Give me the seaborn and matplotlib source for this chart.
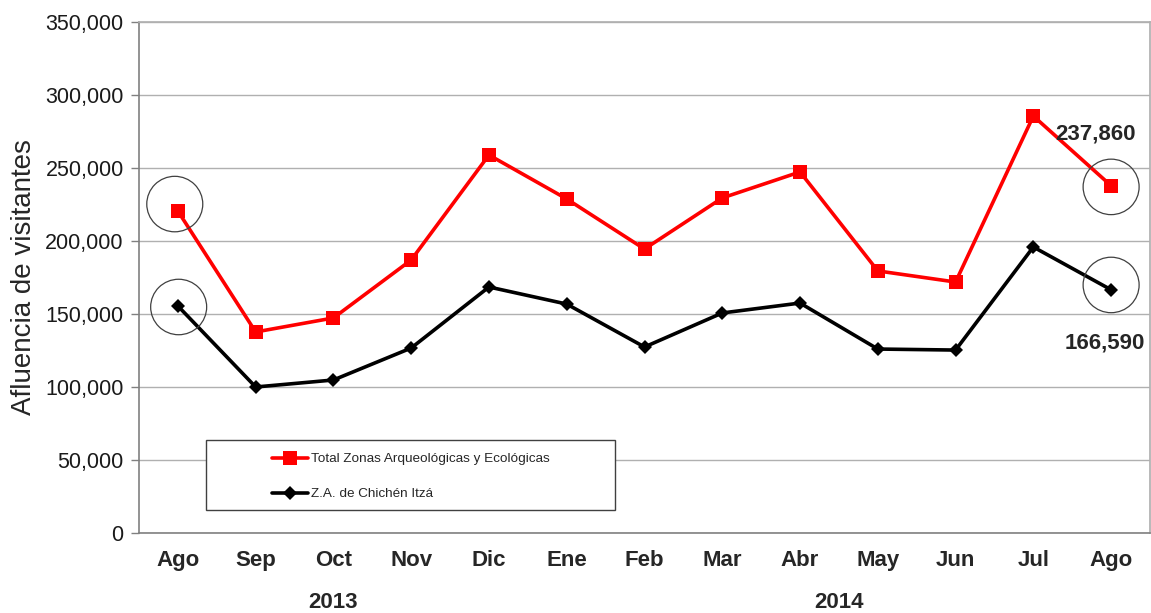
import matplotlib
matplotlib.use("Agg")
import matplotlib.pyplot as plt
import seaborn as sns
import pandas as pd
from matplotlib.patches import Ellipse, Rectangle
from matplotlib.ticker import FuncFormatter

months = ["Ago", "Sep", "Oct", "Nov", "Dic", "Ene", "Feb", "Mar", "Abr", "May", "Jun", "Jul", "Ago"]
total_zonas = [220500, 137700, 147300, 187000, 258900, 228800, 194500, 229500, 247300, 179500, 171900, 285600, 237860]
chichen = [155500, 100000, 104800, 126700, 168500, 156800, 127400, 150700, 157500, 126000, 125300, 195900, 166590]
series_names = ["Total Zonas Arqueológicas y Ecológicas", "Z.A. de Chichén Itzá"]
years = ["2013", "2014"]

sns.set_theme(style="white")
plt.rcParams['font.family'] = ['Liberation Sans', 'DejaVu Sans']

idx = list(range(len(months)))
df = pd.DataFrame({
    "x": idx * 2,
    "y": total_zonas + chichen,
    "serie": [series_names[0]] * len(months) + [series_names[1]] * len(months),
})

fig = plt.figure(figsize=(11.51, 6.13), dpi=100)
ax = fig.add_axes([139/1151, 1 - 533/613, 1011/1151, 511/613])

sns.lineplot(data=df[df.serie == series_names[0]], x="x", y="y", ax=ax, color="#ff0000",
             linewidth=2.6, marker="s", markersize=9.5, markeredgewidth=0,
             label=series_names[0], zorder=3)
sns.lineplot(data=df[df.serie == series_names[1]], x="x", y="y", ax=ax, color="#000000",
             linewidth=2.6, marker="D", markersize=7, markeredgewidth=0,
             label=series_names[1], zorder=3)

ax.set_xlim(-0.5, len(months) - 0.5)
ax.set_ylim(0, 350000)
ax.set_yticks(range(0, 350001, 50000))
ax.yaxis.set_major_formatter(FuncFormatter(lambda v, p: f"{int(v):,}"))
ax.set_xticks(idx)
ax.set_xticklabels(months, fontsize=16, fontweight="bold")
ax.tick_params(axis="y", labelsize=15.5, length=6, width=1, color="#808080", direction="out", left=True, pad=5)
ax.tick_params(axis="x", length=0, pad=12)
for t in ax.get_yticklabels():
    t.set_color("#1a1a1a")
ax.set_xlabel("")
ax.set_ylabel("Afluencia de visitantes", fontsize=20, labelpad=6)
ax.grid(axis="y", color="#b0b0b0", linewidth=1)
ax.set_axisbelow(True)
for s in ["left", "bottom"]:
    ax.spines[s].set_color("#808080")
    ax.spines[s].set_linewidth(1.2)
ax.spines["right"].set_color("#b0b0b0")
ax.spines["top"].set_color("#b0b0b0")

# highlight circles
rx = 0.72
ry = 38000
for xi, yi in [(0 - 0.04, total_zonas[0] + 4800), (0 + 0.01, chichen[0] - 700),
               (12, total_zonas[12] - 800), (12, chichen[12] + 3300)]:
    ax.add_patch(Ellipse((xi, yi), rx, ry, fill=False, edgecolor="#404040", linewidth=0.9, zorder=4))

ax.text(11.8, total_zonas[12] + 35400, f"{total_zonas[12]:,}", ha="center", va="center",
        fontsize=16, fontweight="bold")
ax.text(11.92, chichen[12] - 36450, f"{chichen[12]:,}", ha="center", va="center",
        fontsize=16, fontweight="bold")

# year labels
fig.text(333/1151, 1 - 603/613, years[0], ha="center", va="center", fontsize=16, fontweight="bold")
fig.text(839/1151, 1 - 603/613, years[1], ha="center", va="center", fontsize=16, fontweight="bold")

# legend box
ax.add_patch(Rectangle((67/1011, 23/511), 409/1011, 70/511, transform=ax.transAxes,
                       facecolor="white", edgecolor="#404040", linewidth=1, zorder=5))
leg = ax.legend(loc="upper left", bbox_to_anchor=((272-139)/1011, (533-453)/511),
                frameon=False, fontsize=9.7, handlelength=2.7, handletextpad=0.2,
                labelspacing=1.67, borderpad=0, borderaxespad=0)
leg.set_zorder(6)

fig.savefig("out.png", dpi=100)
